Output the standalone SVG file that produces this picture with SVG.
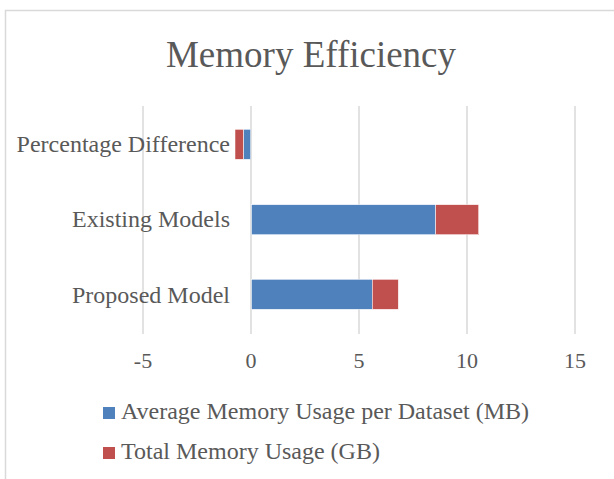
<svg xmlns="http://www.w3.org/2000/svg" width="614" height="479" viewBox="0 0 614 479">
<style>
.t{font-family:"Liberation Serif","Times New Roman",serif;fill:#595959}
.grid{stroke:#d9d9d9;stroke-width:1.5}
.blue{fill:#4f81bd;stroke:#ffffff;stroke-width:0.5}
.red{fill:#c0504d;stroke:#ffffff;stroke-width:0.5}
</style>
<rect x="0" y="0" width="614" height="479" fill="#ffffff"/>
<rect x="5.5" y="10.5" width="640" height="500" fill="#ffffff" stroke="#d9d9d9" stroke-width="1.5"/>
<text class="t" x="311" y="67" font-size="37" text-anchor="middle">Memory Efficiency</text>
<g id="gridlines">
<line class="grid" x1="143" y1="106" x2="143" y2="334"/>
<line class="grid" x1="251" y1="106" x2="251" y2="334"/>
<line class="grid" x1="359" y1="106" x2="359" y2="334"/>
<line class="grid" x1="467" y1="106" x2="467" y2="334"/>
<line class="grid" x1="575" y1="106" x2="575" y2="334"/>
</g>
<g id="bar-percentage-difference">
<rect class="blue" x="243.3" y="129.3" width="7.4" height="30"/>
<rect class="red" x="235" y="129.3" width="8.3" height="30"/>
</g>
<g id="bar-existing-models">
<rect class="blue" x="251.5" y="204.7" width="184.2" height="30"/>
<rect class="red" x="435.7" y="204.7" width="43" height="30"/>
</g>
<g id="bar-proposed-model">
<rect class="blue" x="251.5" y="279.3" width="120.8" height="30"/>
<rect class="red" x="372.3" y="279.3" width="26" height="30"/>
</g>
<g id="category-labels" class="t" font-size="24" text-anchor="end">
<text x="230" y="152">Percentage Difference</text>
<text x="230" y="227">Existing Models</text>
<text x="230" y="303">Proposed Model</text>
</g>
<g id="axis-labels" class="t" font-size="22" text-anchor="middle">
<text x="143" y="368">-5</text>
<text x="251" y="368">0</text>
<text x="359" y="368">5</text>
<text x="467" y="368">10</text>
<text x="575" y="368">15</text>
</g>
<g id="legend">
<rect x="103" y="407" width="12" height="12" fill="#4f81bd"/>
<text class="t" x="121" y="419" font-size="24">Average Memory Usage per Dataset (MB)</text>
<rect x="103" y="447" width="12" height="12" fill="#c0504d"/>
<text class="t" x="121" y="459" font-size="24">Total Memory Usage (GB)</text>
</g>
</svg>
